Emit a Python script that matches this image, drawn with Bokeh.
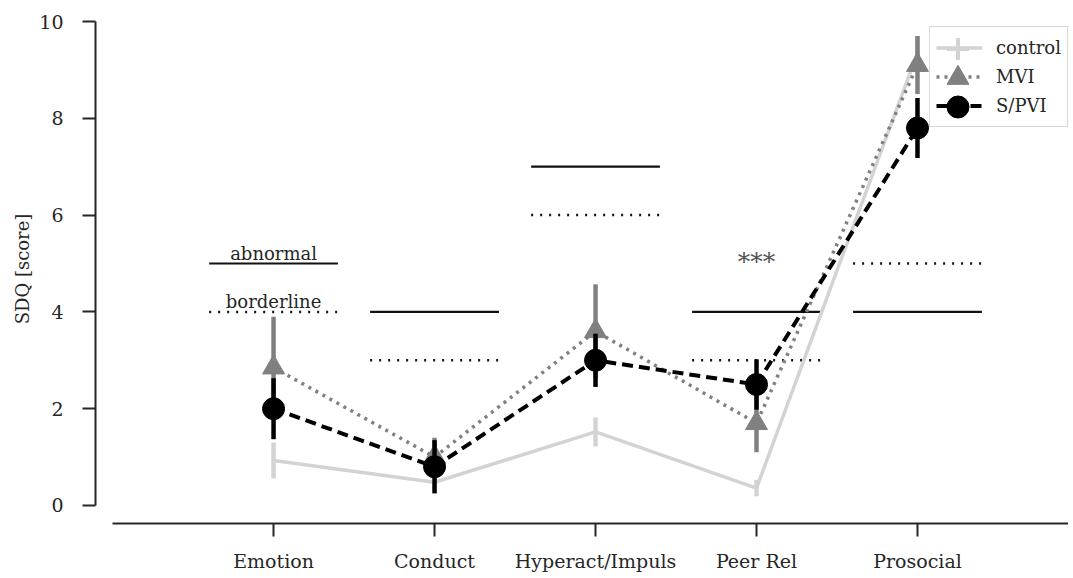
from bokeh.plotting import figure
from bokeh.models import ColumnDataSource, FixedTicker, Range1d, Legend, LegendItem
from bokeh.embed import file_html
from bokeh.resources import INLINE
from bokeh.core.properties import value

# ---------------- data ----------------
categories = ["Emotion", "Conduct", "Hyperact/Impuls", "Peer Rel", "Prosocial"]

control_mean = [0.93, 0.48, 1.52, 0.36, 9.35]
control_err = [0.37, 0.15, 0.30, 0.17, 0.30]

mvi_mean = [2.85, 1.00, 3.60, 1.70, 9.10]
mvi_err = [1.05, 0.40, 0.97, 0.60, 0.60]

spvi_mean = [2.00, 0.80, 3.00, 2.50, 7.80]
spvi_err = [0.63, 0.55, 0.55, 0.52, 0.62]

abnormal_thr = [5, 4, 7, 4, 4]
borderline_thr = [4, 3, 6, 3, 5]

threshold_labels = ["abnormal", "borderline"]
signif_label = ["***"]
signif_category = [3]
signif_y = [5.05]

series_names = ["control", "MVI", "S/PVI"]
y_ticks = [0, 2, 4, 6, 8, 10]

# ---------------- figure ----------------
FONT = "DejaVu Serif"
TXT = "#262626"

p = figure(width=1068, height=574,
           x_range=Range1d(-1.106, 4.938), y_range=Range1d(-0.372, 10.145),
           output_backend="svg", toolbar_location=None,
           min_border_left=95, min_border_right=0, min_border_top=14, min_border_bottom=51)
p.outline_line_color = None
p.xgrid.visible = False
p.ygrid.visible = False
p.background_fill_color = "white"

xs = list(range(len(categories)))
half = 0.4

# threshold lines
p.segment(x0=[x - half for x in xs], x1=[x + half for x in xs],
          y0=abnormal_thr, y1=abnormal_thr, line_color="#111111", line_width=2.2)
p.segment(x0=[x - half for x in xs], x1=[x + half for x in xs],
          y0=borderline_thr, y1=borderline_thr, line_color="#111111", line_width=2.5,
          line_dash="2 7")

def series(mean, err, color, dash, lw, marker, msize):
    lo = [m - e for m, e in zip(mean, err)]
    hi = [m + e for m, e in zip(mean, err)]
    ln = p.line(xs, mean, line_color=color, line_width=lw, line_dash=dash)
    p.segment(x0=xs, x1=xs, y0=lo, y1=hi, line_color=color, line_width=4.5)
    sc = None
    if marker is not None:
        sc = p.scatter(xs, mean, marker=marker, size=msize, fill_color=color,
                       line_color=color, line_width=1)
    return ln, sc

c_line, _ = series(control_mean, control_err, "#d3d3d3", "solid", 3.5, None, 0)
# zero-size cross on the control points: invisible in the plot, gives the legend its "+"
c_cross = p.scatter(xs, control_mean, marker="cross", size=0, line_color="#d3d3d3",
                    line_width=4)
m_line, m_sc = series(mvi_mean, mvi_err, "#808080", "3 5", 3.5, "triangle", 22)
s_line, s_sc = series(spvi_mean, spvi_err, "black", "11 6", 4, "circle", 22)

# annotations
p.text(x=[0, 0], y=[abnormal_thr[0], borderline_thr[0]], text=threshold_labels,
       text_font=value(FONT), text_font_size="18px", text_color=TXT,
       text_align="center", text_baseline="bottom", y_offset=0)
p.text(x=signif_category, y=signif_y, text=signif_label,
       text_font=value(FONT), text_font_size="25px", text_color="#555555",
       text_align="center", text_baseline="alphabetic")

# axes
for ax in (p.xaxis[0], p.yaxis[0]):
    ax.axis_line_width = 2
    ax.axis_line_color = TXT
    ax.major_tick_line_width = 2
    ax.major_tick_line_color = TXT
    ax.major_tick_out = 13
    ax.major_tick_in = 0
    ax.minor_tick_line_color = None
    ax.major_label_text_font = FONT
    ax.major_label_text_font_size = "19px"
    ax.major_label_text_color = TXT

p.xaxis.ticker = FixedTicker(ticks=xs)
p.xaxis.major_label_overrides = {i: c for i, c in enumerate(categories)}
p.xaxis.bounds = (-1, 5)
p.xaxis.major_label_standoff = 13

p.yaxis.ticker = FixedTicker(ticks=y_ticks)
p.yaxis.bounds = (0, 10)
p.yaxis.major_label_standoff = 19
p.yaxis.axis_label = "SDQ [score]"
p.yaxis.axis_label_text_font = FONT
p.yaxis.axis_label_text_font_size = "18px"
p.yaxis.axis_label_text_font_style = "normal"
p.yaxis.axis_label_text_color = TXT
p.yaxis.axis_label_standoff = 3

# main legend: lines, labels and frame
legend = Legend(items=[
    LegendItem(label=series_names[0], renderers=[c_line]),
    LegendItem(label=series_names[1], renderers=[m_line]),
    LegendItem(label=series_names[2], renderers=[s_line]),
], location=(834, 396))
legend.border_line_color = "#b0b0b0"
legend.border_line_width = 1.5
legend.background_fill_alpha = 0.9
legend.label_text_font = FONT
legend.label_text_font_size = "18px"
legend.label_text_color = TXT
legend.glyph_width = 46
legend.glyph_height = 29
legend.label_standoff = 14
legend.padding = 6
legend.spacing = 0
legend.margin = 0
p.add_layout(legend)

# overlay legends carrying full-size markers on top of the legend lines
GL = 55
cx_frame = 958 - 95          # glyph centre, frame pixels from left
row_centres = [48.5, 77.5, 106.5]   # page pixels from top
for rend, cy in zip([c_cross, m_sc, s_sc], row_centres):
    ov = Legend(items=[LegendItem(label=" ", renderers=[rend])],
                location=(int(cx_frame - GL / 2), int(523 - (cy + GL / 2))))
    ov.glyph_width = GL
    ov.glyph_height = GL
    ov.padding = 0
    ov.margin = 0
    ov.spacing = 0
    ov.label_standoff = 0
    ov.label_text_font_size = "1px"
    ov.border_line_color = None
    ov.background_fill_color = None
    ov.background_fill_alpha = 0
    p.add_layout(ov)

open("out.html", "w").write(file_html(p, INLINE))
